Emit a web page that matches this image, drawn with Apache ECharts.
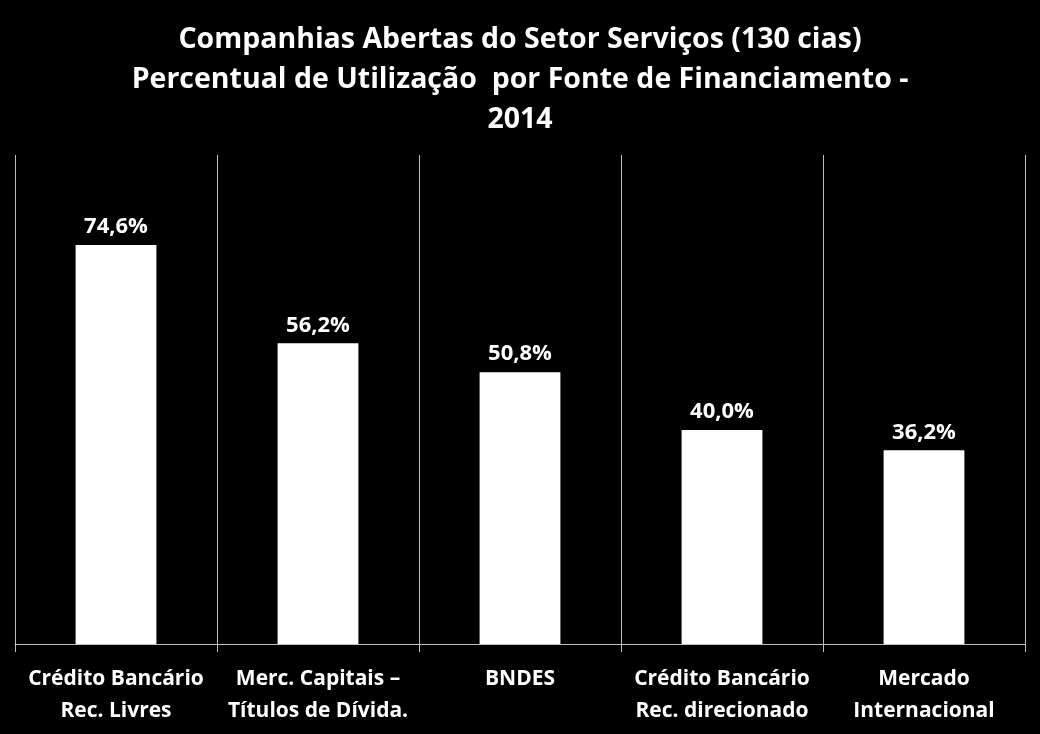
<!DOCTYPE html>
<html><head><meta charset="utf-8">
<style>html,body{margin:0;padding:0;background:#000;}#c{width:1040px;height:734px;}</style>
<script src="https://cdn.jsdelivr.net/npm/echarts@6/dist/echarts.min.js"></script>
</head><body><div id="c"></div>
<script>
const categories = ["Crédito Bancário\nRec. Livres", "Merc. Capitais –\nTítulos de Dívida.", "BNDES", "Crédito Bancário\nRec. direcionado", "Mercado\nInternacional"];
const values = [74.6, 56.2, 50.8, 40.0, 36.2];
const titleText = "Companhias Abertas do Setor Serviços (130 cias)\nPercentual de Utilização  por Fonte de Financiamento -\n2014";
const FONT = "'Open Sans', 'Noto Sans', sans-serif";
const chart = echarts.init(document.getElementById('c'));
chart.setOption({
  backgroundColor: '#000',
  animation: false,
  title: {
    text: titleText, left: 'center', top: 15,
    textStyle: {color: '#fff', fontFamily: FONT, fontWeight: 'bold', fontSize: 28.5, lineHeight: 40}
  },
  grid: {left: 15, right: 15, top: 155, bottom: 90},
  xAxis: {
    type: 'category', data: categories, boundaryGap: true,
    axisLine: {show: true, lineStyle: {color: '#bfbfbf', width: 1}},
    axisTick: {show: true, length: 8, lineStyle: {color: '#bfbfbf'}},
    splitLine: {show: true, lineStyle: {color: '#bfbfbf', width: 1}},
    axisLabel: {color: '#fff', fontFamily: FONT, fontWeight: 'bold', fontSize: 21, lineHeight: 32, margin: 19, interval: 0}
  },
  yAxis: {type: 'value', min: 0, max: 91.4, show: false, splitLine: {show: false}},
  series: [{
    type: 'bar', data: values, barWidth: '40%',
    itemStyle: {color: '#fff'},
    label: {show: true, position: 'top', distance: 7, color: '#fff', fontFamily: FONT, fontWeight: 'bold', fontSize: 22,
      formatter: p => p.value.toFixed(1).replace('.', ',') + '%'}
  }]
});
</script></body></html>
